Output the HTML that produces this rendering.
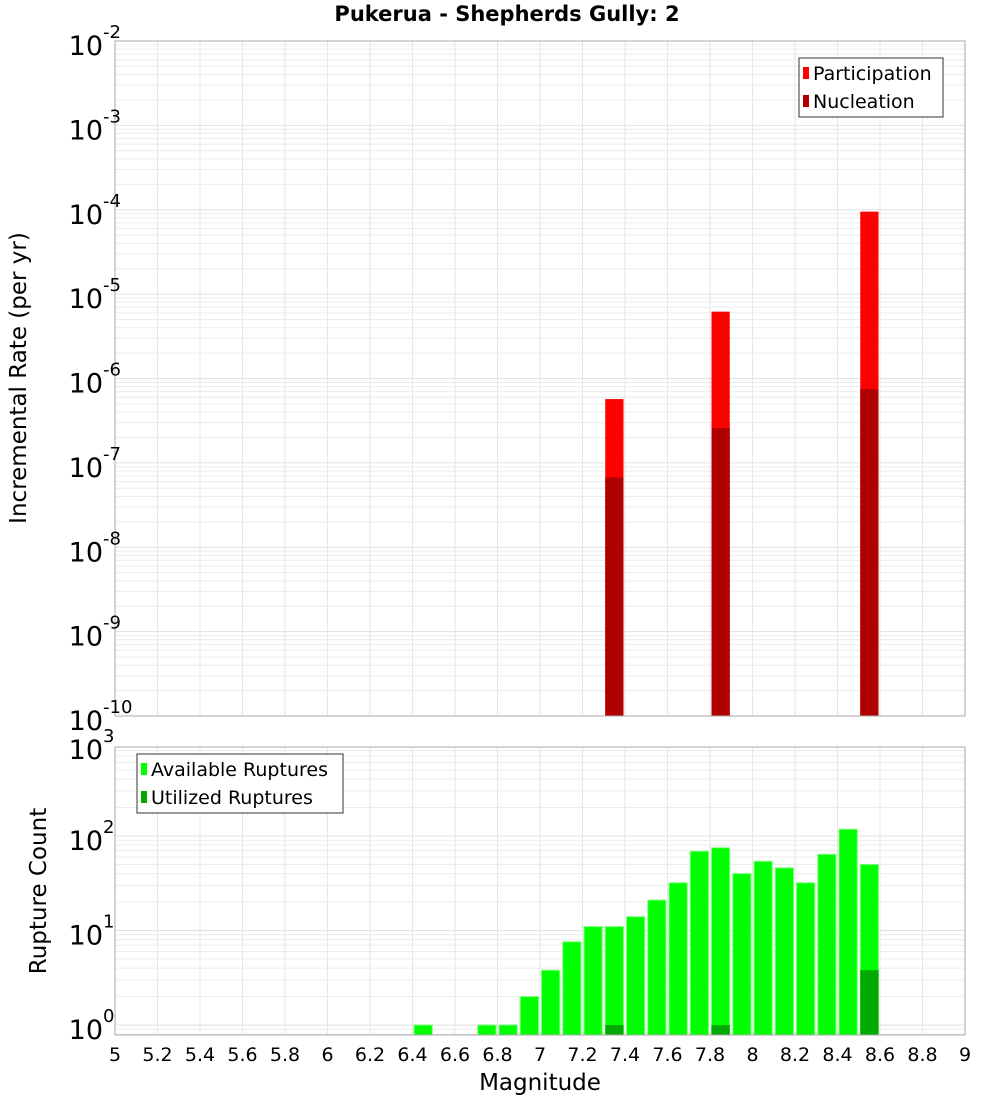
<!DOCTYPE html>
<html><head><meta charset="utf-8"><style>
body{margin:0;background:#fff;width:1000px;height:1100px;overflow:hidden}
svg{font-family:"DejaVu Sans","Liberation Sans",sans-serif}
</style></head><body>
<svg id="chart" width="1000" height="1100" xmlns="http://www.w3.org/2000/svg">
<text x="507" y="21" text-anchor="middle" font-size="21" font-weight="bold">Pukerua - Shepherds Gully: 2</text>
<g id="top"></g>
<g id="bot"></g>
<text transform="translate(26,378) rotate(-90)" text-anchor="middle" font-size="23">Incremental Rate (per yr)</text>
<text transform="translate(46,891) rotate(-90)" text-anchor="middle" font-size="23">Rupture Count</text>
<text x="540" y="1090" text-anchor="middle" font-size="23">Magnitude</text>
</svg>
<script>
// data
const rateBins = [7.35, 7.85, 8.55];
const participation = [5.7e-7, 6.2e-6, 9.5e-5];
const nucleation = [6.7e-8, 2.6e-7, 7.5e-7];
const countBins = [6.45,6.75,6.85,6.95,7.05,7.15,7.25,7.35,7.45,7.55,7.65,7.75,7.85,7.95,8.05,8.15,8.25,8.35,8.45,8.55];
const available = [1,1,1,2,3.8,7.6,11,11,14,21,32,69,75,40,54,46,32,64,118,50];
const utilizedBins = [7.35, 7.85, 8.55];
const utilized = [1,1,3.8];
const xTicks = [5,5.2,5.4,5.6,5.8,6,6.2,6.4,6.6,6.8,7,7.2,7.4,7.6,7.8,8,8.2,8.4,8.6,8.8,9];
const topExps = [-2,-3,-4,-5,-6,-7,-8,-9,-10];
const botExps = [0,1,2,3];

const NS="http://www.w3.org/2000/svg";
const X0=115,X1=965;
const xs=m=>X0+(m-5)/4*(X1-X0);
const yTop=v=>41+(-2-Math.log10(v))*84.375;
const yBot=v=>1025-Math.log10(v)*94.5;
function el(p,t,a){const e=document.createElementNS(NS,t);for(const k in a)e.setAttribute(k,a[k]);p.appendChild(e);return e;}

function frame(g,top,bottom,yf,minE,maxE){
  for(let e=minE;e<=maxE;e++)for(let k=1;k<10;k++){
    const v=k*Math.pow(10,e);const y=yf(v);
    if(y<top-0.5||y>bottom+0.5)continue;
    const l=el(g,'line',{x1:X0,x2:X1,y1:y,y2:y,stroke:k==1?'#e0e0e0':'#ececec','stroke-width':1});
    
    
  }
  xTicks.forEach(t=>{const x=xs(t);
    const l=el(g,'line',{x1:x,x2:x,y1:top,y2:bottom,stroke:'#e6e6e6','stroke-width':1});
    
    });
}
function border(g,top,bottom){
  const r=el(g,'rect',{x:X0,y:top,width:X1-X0,height:bottom-top,fill:'none',stroke:'#aaa','stroke-width':1});
  
  
}
function yLabel(g,e,y){
  const t=el(g,'text',{x:103,y:y+14,'text-anchor':'end','font-size':27});
  
  
  t.textContent='10';
  const s=el(g,'text',{x:103,y:y-3,'font-size':18});
  
  
  s.textContent=String(e);
}
function bar(g,m,v,yf,base,fill,name,stroke){
  const x=xs(m-0.05)+1.5,w=xs(m+0.05)-xs(m-0.05)-3;const y=yf(v);
  const r=el(g,'rect',{x:x,y:y,width:w,height:base-y,fill:fill});
  if(stroke){r.setAttribute('stroke',stroke);r.setAttribute('stroke-width',1);}
  
  
}
// top
const gt=document.getElementById('top');
frame(gt,41,716,yTop,-11,-2);
rateBins.forEach((m,i)=>bar(gt,m,participation[i],yTop,716,'#ff0000','participation-bar'));
rateBins.forEach((m,i)=>bar(gt,m,nucleation[i],yTop,716,'#b00000','nucleation-bar'));
border(gt,41,716);
topExps.forEach(e=>yLabel(gt,e,yTop(Math.pow(10,e))));
// bottom
const gb=document.getElementById('bot');
frame(gb,747,1035,yBot,-1,3);
countBins.forEach((m,i)=>bar(gb,m,available[i],yBot,1035,'#00ff00','available-bar','#7fff7f'));
utilizedBins.forEach((m,i)=>bar(gb,m,utilized[i],yBot,1035,'#00aa00','utilized-bar'));
border(gb,747,1035);
botExps.forEach(e=>yLabel(gb,e,Math.max(yBot(Math.pow(10,e)),745)));
xTicks.forEach(t=>{const tx=el(gb,'text',{x:xs(t),y:1061,'text-anchor':'middle','font-size':19});
  
  
  tx.textContent=String(t);});
// legends
function legend(g,x,y,w,items,name){
  const lg=el(g,'g',{});
  
  
  el(lg,'rect',{x:x,y:y,width:w,height:59,fill:'#fff',stroke:'#333','stroke-width':1});
  items.forEach((it,i)=>{
    el(lg,'rect',{x:x+4,y:y+9+i*28,width:6,height:12,fill:it[1]});
    const t=el(lg,'text',{x:x+14,y:y+22+i*28,'font-size':19});
    
    
    t.textContent=it[0];
  });
}
legend(gt,799,58,144,[['Participation','#ff0000'],['Nucleation','#b00000']],'rate-legend');
legend(gb,137,754,206,[['Available Ruptures','#00ff00'],['Utilized Ruptures','#00aa00']],'count-legend');
</script>
</body></html>
